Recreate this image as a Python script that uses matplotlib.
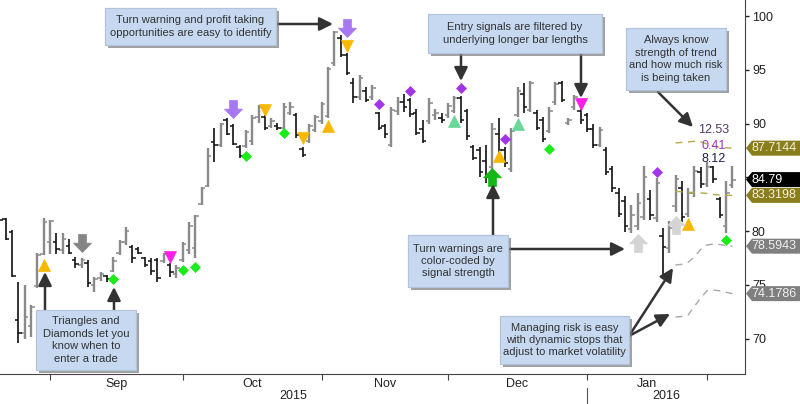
import matplotlib
matplotlib.use("Agg")
import matplotlib.pyplot as plt
import matplotlib.patheffects as pe
import numpy as np
from matplotlib.path import Path
from matplotlib.patches import Rectangle, Polygon
from matplotlib.transforms import IdentityTransform

plt.rcParams['font.family'] = ['Liberation Sans', 'DejaVu Sans']

# daily OHLC, 19 Aug 2015 .. 5 Feb 2016 (one entry per trading day)
opens = [82.9, 81.1, 79.9, 71.7, 70.5, 71.2, 74.9, 77.9,
         79.0, 79.0, 78.2, 78.6, 77.3, 76.8, 77.0, 75.0, 75.6, 75.8, 76.3, 78.0,
         79.0, 78.5, 78.3, 77.5, 77.2, 77.3, 77.2, 76.8, 76.0,
         77.3, 78.2, 78.4, 82.5, 84.2, 88.3, 88.0, 90.3, 89.8, 87.8, 87.9,
         88.4, 90.6, 90.6, 89.8, 89.8, 89.6, 91.0, 90.8, 87.6, 88.4, 89.4,
         90.2, 90.7, 95.6, 98.0, 96.4, 93.8, 92.5, 93.0, 92.5, 91.0,
         89.8, 88.0, 91.2, 92.0, 92.2, 91.0, 89.5, 90.2, 90.8, 90.5,
         90.8, 91.2, 92.4, 91.2, 87.8, 87.5, 86.5, 86.0, 89.0, 87.5,
         85.8, 90.8, 92.8, 91.3, 91.0, 90.3, 89.3, 92.0, 93.8, 90.1, 91.5, 91.2,
         90.8, 89.5, 88.0, 87.5, 85.8, 83.5, 82.8, 80.2, 80.5, 81.3,
         83.0, 81.2, 79.5, 78.4, 82.3, 84.0, 81.6, 83.5, 85.5,
         84.4, 86.0, 83.0, 80.5, 84.3]
highs = [83.1, 81.2, 80.1, 75.3, 75.0, 73.1, 78.0, 81.2,
         81.0, 79.8, 79.8, 79.3, 77.6, 77.5, 77.3, 75.7, 76.2, 75.9, 77.6, 79.2,
         80.4, 78.7, 78.5, 77.6, 77.5, 77.5, 78.0, 77.0, 76.8,
         79.0, 80.8, 81.5, 84.1, 87.7, 89.6, 90.1, 90.5, 90.0, 88.0, 89.4,
         90.8, 91.7, 90.8, 90.5, 90.1, 91.9, 92.0, 91.0, 87.8, 90.0, 90.8,
         92.0, 95.3, 98.6, 98.2, 96.6, 94.2, 94.5, 93.4, 93.6, 91.1,
         90.0, 91.5, 92.5, 92.8, 92.4, 91.4, 90.3, 92.4, 91.4, 91.0,
         91.9, 92.6, 92.6, 91.4, 88.0, 87.8, 88.0, 90.1, 90.5, 87.8,
         89.6, 93.4, 93.8, 94.0, 91.3, 90.6, 91.5, 93.9, 94.0, 90.5, 92.7, 91.4,
         91.0, 90.0, 89.7, 87.8, 86.1, 84.0, 83.3, 82.4, 83.5, 86.1,
         83.8, 84.9, 80.3, 80.9, 85.2, 84.7, 84.0, 86.1, 86.0,
         86.4, 86.1, 83.2, 84.7, 86.1]
lows = [80.8, 79.2, 75.7, 69.6, 70.0, 70.1, 74.7, 77.8,
        77.9, 77.9, 77.9, 77.9, 76.6, 76.6, 74.8, 74.3, 75.4, 75.3, 76.2, 77.8,
        78.7, 77.0, 77.9, 76.7, 75.9, 75.3, 77.0, 75.7, 75.6,
        77.1, 77.9, 77.5, 82.4, 84.1, 86.4, 87.8, 88.9, 88.0, 86.8, 87.7,
        88.0, 90.1, 89.4, 89.6, 89.4, 89.4, 90.8, 88.7, 86.9, 88.2, 89.2,
        90.0, 90.5, 95.4, 96.2, 94.5, 91.9, 92.2, 92.0, 92.2, 89.4,
        88.7, 87.8, 90.8, 91.1, 90.6, 88.9, 88.2, 90.0, 90.3, 90.1,
        90.5, 91.0, 90.1, 88.5, 86.6, 85.0, 84.5, 85.7, 86.6, 86.0,
        85.5, 90.6, 91.0, 91.1, 89.4, 88.3, 89.1, 91.7, 92.0, 89.9, 91.3, 90.0,
        89.2, 87.7, 87.8, 85.2, 83.6, 81.3, 79.9, 79.8, 80.1, 81.0,
        81.0, 80.8, 75.5, 78.0, 81.8, 80.8, 81.3, 83.2, 84.0,
        84.1, 84.5, 81.2, 79.8, 84.0]
closes = [81.0, 79.3, 75.8, 70.5, 72.0, 72.9, 77.8, 80.8,
          80.9, 78.3, 79.3, 78.0, 76.9, 77.3, 75.2, 75.5, 76.0, 75.5, 77.2, 79.0,
          80.0, 77.5, 78.0, 76.8, 76.3, 75.6, 77.9, 76.2, 76.6,
          78.8, 80.5, 81.4, 84.0, 87.0, 88.0, 90.0, 89.0, 88.1, 87.0, 89.2,
          90.5, 91.5, 89.6, 90.2, 89.6, 91.5, 91.5, 88.9, 87.1, 89.8, 90.6,
          91.8, 95.1, 98.5, 96.4, 94.7, 92.5, 94.2, 92.2, 93.3, 89.6,
          89.0, 91.3, 92.0, 91.5, 90.9, 89.1, 88.4, 91.9, 91.0, 90.3,
          91.6, 92.4, 90.3, 88.8, 86.8, 85.5, 85.0, 89.5, 87.5, 86.3,
          89.3, 93.0, 91.5, 93.8, 89.6, 88.6, 91.2, 93.7, 92.2, 90.3, 92.5, 90.3,
          89.5, 88.0, 89.4, 85.5, 84.0, 81.6, 80.5, 81.5, 82.6, 85.0,
          81.5, 84.5, 78.5, 80.3, 84.8, 81.3, 83.5, 85.6, 84.4,
          86.0, 84.8, 81.5, 83.5, 84.79]

# first bar of each month (Sep .. Feb)
month_starts = [8, 29, 51, 71, 93, 112]
month_names = ['Sep', 'Oct', 'Nov', 'Dec', 'Jan']

# signals: bar index and price
yellow_up_i = [7, 52, 79, 109]
yellow_up_p = [76.84, 89.8, 87.0, 80.65]
yellow_dn_i = [42, 48, 55]
yellow_dn_p = [91.3, 88.7, 97.2]
green_dia_i = [18, 29, 31, 39, 45, 87, 115]
green_dia_p = [75.5, 76.4, 76.7, 87.0, 89.1, 87.6, 79.2]
purple_dia_i = [60, 65, 73, 80, 104]
purple_dia_p = [91.8, 93.0, 93.3, 88.55, 85.5]
magenta_dn_i = [27, 92]
magenta_dn_p = [77.6, 91.8]
mint_up_i = [72, 82]
mint_up_p = [90.2, 89.95]
purple_arrow_i = [37, 55]
purple_arrow_p = [91.4, 98.9]
gray_arrow_i = [13]
gray_arrow_p = [78.9]
green_arrow_i = [78]
green_arrow_p = [85.0]
light_arrow_i = [101, 107]
light_arrow_p = [78.9, 80.55]

# trend band and stops over the last bars
band_i = list(range(107, 117))
band_hi = [88.2, 88.25, 88.3, 88.35, 88.3, 88.1, 87.9, 87.8, 87.75, 87.7144]
band_lo = [83.7, 83.65, 83.6, 83.6, 83.55, 83.5, 83.4, 83.35, 83.32, 83.3198]
stop_hi = [76.85, 76.9, 77.1, 77.6, 78.3, 78.7, 78.8, 78.75, 78.65, 78.5943]
stop_lo = [72.0, 72.05, 72.2, 73.0, 73.8, 74.45, 74.5, 74.45, 74.3, 74.1786]

y_ticks = [70, 75, 80, 85, 90, 95, 100]
y_labels = ['70', '75', '80', '', '90', '95', '100']

fig = plt.figure(figsize=(8, 4.04), dpi=100)
ax = fig.add_axes([0, 30 / 404, 745 / 800, 374 / 404])
ax.set_xlim(0.08, 118.0)
ax.set_ylim(66.7, 101.5)

o = np.array(opens)
h = np.array(highs)
l = np.array(lows)
c = np.array(closes)
x = np.arange(len(c))
up = c >= o
for mask, col, lw in [(up, '#8a8a8a', 1.7), (~up, '#111111', 1.2)]:
    ax.vlines(x[mask], l[mask], h[mask], colors=col, lw=lw)
    ax.hlines(o[mask], x[mask] - 0.55, x[mask], colors=col, lw=1.1)
    ax.hlines(c[mask], x[mask], x[mask] + 0.55, colors=col, lw=1.1)

# dashed levels
ax.plot(band_i, band_hi, ls=(0, (5, 4)), color='#b5a94a', lw=1)
ax.plot(band_i, band_lo, ls=(0, (5, 4)), color='#b5a94a', lw=1)
ax.plot(band_i, stop_hi, ls=(0, (5, 4)), color='#a8a8a8', lw=1)
ax.plot(band_i, stop_lo, ls=(0, (5, 4)), color='#a8a8a8', lw=1)

dn_arrow = Path([(-0.22, 0.5), (0.22, 0.5), (0.22, 0.02), (0.5, 0.02), (0, -0.5),
                 (-0.5, 0.02), (-0.22, 0.02), (-0.22, 0.5)], closed=True)
up_arrow = Path([(px, -py) for px, py in dn_arrow.vertices], closed=True)


def sig(ix, pr, marker, color, ms):
    ax.plot(ix, pr, ls='none', marker=marker, ms=ms, color=color, mec=color, mew=0.5, zorder=4)


sig(yellow_up_i, yellow_up_p, '^', '#f9b800', 8)
sig(yellow_dn_i, yellow_dn_p, 'v', '#f9b800', 8)
sig(green_dia_i, green_dia_p, 'D', '#19ec19', 5.5)
sig(purple_dia_i, purple_dia_p, 'D', '#a236e6', 5.5)
sig(magenta_dn_i, magenta_dn_p, 'v', '#ff1ee8', 8)
sig(mint_up_i, mint_up_p, '^', '#6ad89a', 8)
sig(purple_arrow_i, purple_arrow_p, dn_arrow, '#a878f2', 13)
sig(gray_arrow_i, gray_arrow_p, dn_arrow, '#858585', 13)
sig(green_arrow_i, green_arrow_p, up_arrow, '#14b814', 13)
sig(light_arrow_i, light_arrow_p, up_arrow, '#d4d4d4', 13)

# trend readout
ax.text(113, 89.4, '12.53', ha='center', va='center', fontsize=9, color='#5a3a6c')
ax.text(113, 87.9, '0.41', ha='center', va='center', fontsize=9, color='#9c32c8')
ax.text(113, 86.7, '8.12', ha='center', va='center', fontsize=9, color='#1e1e4e')

# axes styling
for s in ['top', 'left']:
    ax.spines[s].set_visible(False)
ax.spines['bottom'].set_color('#444444')
ax.spines['right'].set_color('#444444')
ax.yaxis.tick_right()
ax.set_yticks(y_ticks)
ax.set_yticklabels(y_labels)
ax.tick_params(axis='y', direction='out', length=3, width=1, pad=2, labelsize=9,
               colors='#222222')
ax.set_xticks(month_starts)
ax.set_xticklabels([])
mids = [(a + b) / 2 for a, b in zip(month_starts[:-1], month_starts[1:])]
ax.set_xticks(mids, minor=True)
ax.set_xticklabels(month_names, minor=True)
ax.tick_params(axis='x', which='major', length=4, direction='out', colors='#444444')
ax.tick_params(axis='x', which='minor', length=0, pad=3, labelsize=9, labelcolor='#222222')

xt = ax.get_xaxis_transform()
ax.text((ax.get_xlim()[0] + month_starts[4]) / 2, -0.058, '2015', transform=xt,
        ha='center', va='center', fontsize=9, color='#222222')
ax.text((month_starts[4] + ax.get_xlim()[1]) / 2, -0.058, '2016', transform=xt,
        ha='center', va='center', fontsize=9, color='#222222')
ax.plot([month_starts[4], month_starts[4]], [-0.0375, -0.09], transform=xt,
        color='#555555', lw=0.8, clip_on=False)


# price tags on the right
def tag(price, text, face, tcol):
    x0, y0 = ax.transData.transform((ax.get_xlim()[1], price))
    hh = 7.5
    poly = Polygon([(x0 + 1, y0), (x0 + 7, y0 + hh), (x0 + 70, y0 + hh),
                    (x0 + 70, y0 - hh), (x0 + 7, y0 - hh)], closed=True,
                   transform=IdentityTransform(), facecolor=face, edgecolor='none', zorder=5)
    fig.add_artist(poly)
    fig.text((x0 + 6.5) / 800, y0 / 404, text, ha='left', va='center', fontsize=9,
             color=tcol, zorder=6)


tag(band_hi[-1], '87.7144', '#8a7d1c', '#f5f1dc')
tag(closes[-1], '84.79', '#000000', '#ffffff')
tag(band_lo[-1], '83.3198', '#8a7d1c', '#f5f1dc')
tag(stop_hi[-1], '78.5943', '#7f7f7f', '#f2f2f2')
tag(stop_lo[-1], '74.1786', '#7f7f7f', '#f2f2f2')


# callouts (pixel layout, top-left origin)
def note(x0, y0, x1, y1, text):
    r = Rectangle((x0 / 800, 1 - y1 / 404), (x1 - x0) / 800, (y1 - y0) / 404,
                  transform=fig.transFigure, facecolor='#c6d9f1', edgecolor='#b3c4da',
                  lw=0.8, zorder=6)
    r.set_path_effects([pe.withSimplePatchShadow(offset=(2, -2), shadow_rgbFace='#7a7a7a',
                                                 alpha=0.7), pe.Normal()])
    fig.add_artist(r)
    fig.text((x0 + x1) / 1600, 1 - (y0 + y1) / 808, text, ha='center', va='center',
             fontsize=8, color='#333333', linespacing=1.3, zorder=7)


def pointer(x0, y0, x1, y1):
    ax.annotate('', xy=(x1, 404 - y1), xycoords='figure pixels',
                xytext=(x0, 404 - y0), textcoords='figure pixels',
                arrowprops=dict(arrowstyle='-|>,head_length=0.8,head_width=0.4',
                                color='#333333', lw=1.8, shrinkA=0, shrinkB=0),
                annotation_clip=False, zorder=8)


note(105, 8, 276, 45, 'Turn warning and profit taking\nopportunities are easy to identify')
note(428, 14, 602, 53, 'Entry signals are filtered by\nunderlying longer bar lengths')
note(626, 28, 726, 90, 'Always know\nstrength of trend\nand how much risk\nis being taken')
note(36, 310, 136, 370, 'Triangles and\nDiamonds let you\nknow when to\nenter a trade')
note(408, 235, 508, 287, 'Turn warnings are\ncolor-coded by\nsignal strength')
note(500, 316, 629, 364, 'Managing risk is easy\nwith dynamic stops that\nadjust to market volatility')

pointer(276, 24, 333, 24)
pointer(461, 53, 461, 81)
pointer(581, 53, 581, 98)
pointer(658, 92, 693, 127)
pointer(45, 310, 45, 272)
pointer(114, 310, 114, 287)
pointer(508, 249, 625, 249)
pointer(493, 235, 493, 184)
pointer(629, 336, 673, 268)
pointer(629, 336, 670, 314)

fig.savefig('out.png', dpi=100)
